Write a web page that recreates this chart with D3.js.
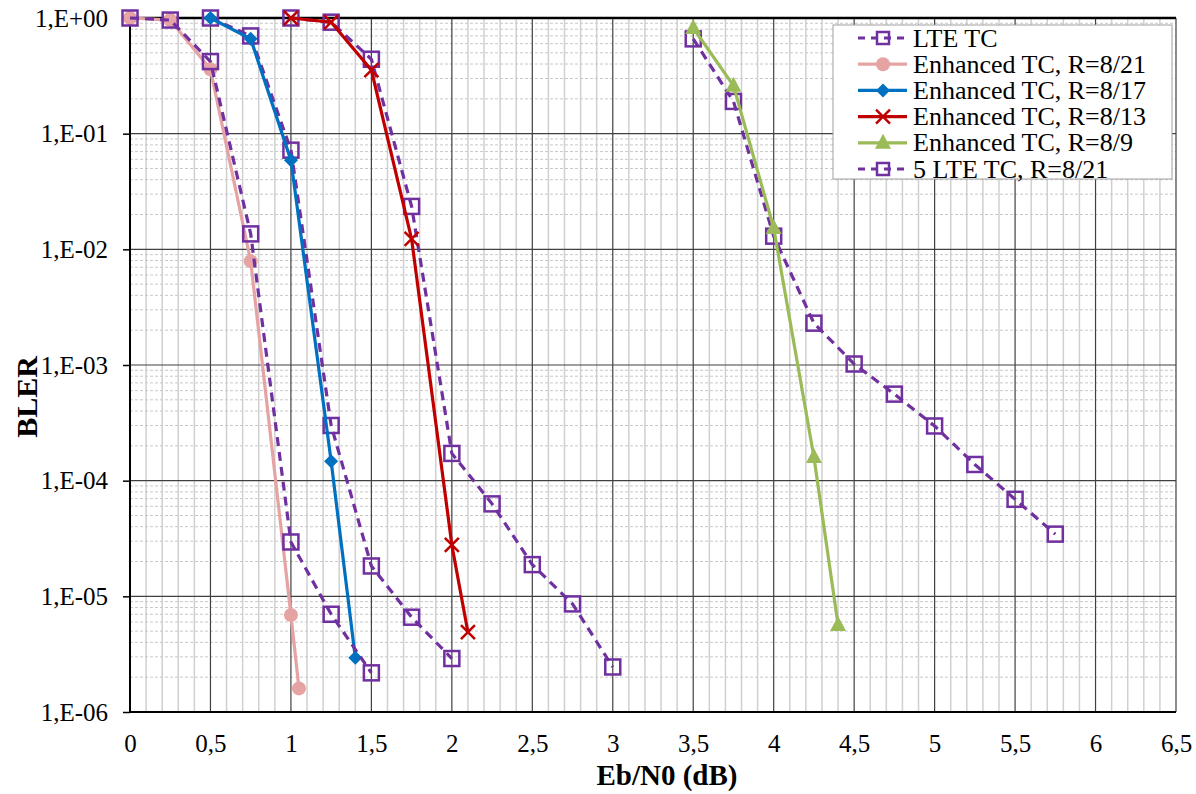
<!DOCTYPE html>
<html><head><meta charset="utf-8">
<script src="https://cdn.jsdelivr.net/npm/d3@7"></script>
<style>body{margin:0;background:#fff}svg{display:block}text{font-family:"Liberation Serif","Times New Roman",serif}</style>
</head><body><svg id="c" width="1196" height="794"></svg>
<script>
// ---- data ----
const xTicks = [0,0.5,1,1.5,2,2.5,3,3.5,4,4.5,5,5.5,6,6.5];
const yTicks = [1,1e-1,1e-2,1e-3,1e-4,1e-5,1e-6];
const yTickLabels = ["1,E+00","1,E-01","1,E-02","1,E-03","1,E-04","1,E-05","1,E-06"];

// LTE TC (three separate curves)
const lteB_x = [0.5,0.75,1,1.25,1.5,1.75,2];
const lteB_y = [1,0.70,0.072,3.0e-4,1.83e-5,6.6e-6,2.9e-6];
const lteC_x = [1,1.25,1.5,1.75,2,2.25,2.5,2.75,3];
const lteC_y = [1,0.92,0.44,0.0235,1.72e-4,6.3e-5,1.88e-5,8.6e-6,2.45e-6];
const lteD_x = [3.5,3.75,4,4.25,4.5,4.75,5,5.25,5.5,5.75];
const lteD_y = [0.66,0.19,0.013,2.3e-3,1.02e-3,5.6e-4,2.97e-4,1.38e-4,6.9e-5,3.45e-5];
// Enhanced TC
const e821_x = [0,0.25,0.5,0.75,1,1.05];
const e821_y = [1,0.96,0.36,0.0079,6.9e-6,1.6e-6];
const e817_x = [0.5,0.75,1,1.25,1.4];
const e817_y = [1,0.66,0.059,1.47e-4,2.95e-6];
const e813_x = [1,1.25,1.5,1.75,2,2.1];
const e813_y = [1,0.92,0.355,0.0123,2.78e-5,4.9e-6];
const e89_x = [3.5,3.75,4,4.25,4.4];
const e89_y = [0.82,0.26,0.0153,1.6e-4,5.65e-6];
// 5 LTE TC, R=8/21
const lte5_x = [0,0.25,0.5,0.75,1,1.25,1.5];
const lte5_y = [1,0.96,0.42,0.0136,2.95e-5,7.0e-6,2.18e-6];

const legendLabels = ["LTE TC","Enhanced TC, R=8/21","Enhanced TC, R=8/17","Enhanced TC, R=8/13","Enhanced TC, R=8/9","5 LTE TC, R=8/21"];

// ---- layout ----
const L=130, R=1176, T=18, B=712;
const svg = d3.select("#c");
const x = d3.scaleLinear().domain([0,6.5]).range([L,R]);
const y = d3.scaleLog().domain([1e-6,1]).range([B,T]);

// grid
const g = svg.append("g");
const minorX = d3.range(0,65).map(i=>i/10).filter(v=>Math.abs(v*2-Math.round(v*2))>1e-6);
g.selectAll(".mx").data(minorX).join("line")
  .attr("x1",d=>x(d)).attr("x2",d=>x(d)).attr("y1",T).attr("y2",B)
  .attr("stroke","#d0d0d0").attr("stroke-width",1.5);
const minorY=[];
for(let e=-6;e<0;e++) for(let k=2;k<=9;k++) minorY.push(k*Math.pow(10,e));
g.selectAll(".my").data(minorY).join("line")
  .attr("x1",L).attr("x2",R).attr("y1",d=>y(d)).attr("y2",d=>y(d))
  .attr("stroke","#c8c8c8").attr("stroke-width",1).attr("stroke-dasharray","3,2");
g.selectAll(".MX").data(xTicks).join("line")
  .attr("x1",d=>x(d)).attr("x2",d=>x(d)).attr("y1",T).attr("y2",B)
  .attr("stroke","#404040").attr("stroke-width",1.2);
g.selectAll(".MY").data(yTicks).join("line")
  .attr("x1",L).attr("x2",R).attr("y1",d=>y(d)).attr("y2",d=>y(d))
  .attr("stroke","#404040").attr("stroke-width",1.2);
svg.append("line").attr("x1",L).attr("x2",R).attr("y1",T).attr("y2",T).attr("stroke","#000").attr("stroke-width",2.5);
svg.append("line").attr("x1",L).attr("x2",R).attr("y1",B).attr("y2",B).attr("stroke","#000").attr("stroke-width",2);
svg.append("line").attr("x1",L).attr("x2",L).attr("y1",T).attr("y2",B).attr("stroke","#000").attr("stroke-width",2);

// axes
const yAxis = d3.axisLeft(y).tickValues(yTicks).tickSize(7).tickFormat((d,i)=>yTickLabels[i]);
const ya = svg.append("g").attr("transform",`translate(${L},0)`).call(yAxis);
ya.attr("font-family",null).attr("font-size",null);
ya.select(".domain").remove();
ya.selectAll("line").attr("stroke","#000").attr("stroke-width",1.5);
ya.selectAll("text").style("font-size","25px").attr("fill","#000").attr("x",-22).attr("dy","0.33em");
const xAxis = d3.axisBottom(x).tickValues(xTicks).tickSize(0).tickFormat(d=>String(d).replace(".",","));
const xa = svg.append("g").attr("transform",`translate(0,${B})`).call(xAxis);
xa.attr("font-family",null).attr("font-size",null);
xa.select(".domain").remove();
xa.selectAll("text").style("font-size","25px").attr("fill","#000").attr("y",40).attr("dy",null);

svg.append("text").attr("transform",`translate(37,397) rotate(-90)`).attr("text-anchor","middle")
  .style("font-size","30px").attr("font-weight","bold").text("BLER");
svg.append("text").attr("x",667).attr("y",785).attr("text-anchor","middle")
  .style("font-size","29px").attr("font-weight","bold").text("Eb/N0 (dB)");

// series
const PUR="#7030A0", PINK="#E6A3A3", BLUE="#0070C0", RED="#C00000", GREEN="#9BBB59";
const line = d3.line().x(d=>x(d[0])).y(d=>y(d[1]));
const zip=(a,b)=>a.map((v,i)=>[v,b[i]]);
function marker(sel, type, color){
  if(type==="square") sel.append("rect").attr("x",-7.5).attr("y",-7.5).attr("width",15).attr("height",15)
    .attr("fill","none").attr("stroke",color).attr("stroke-width",2.5);
  else if(type==="circle") sel.append("circle").attr("r",7).attr("fill",color);
  else if(type==="diamond") sel.append("path").attr("d","M0,-7L7,0L0,7L-7,0Z").attr("fill",color);
  else if(type==="x") sel.append("path").attr("d","M-7,-7L7,7M-7,7L7,-7").attr("stroke",color).attr("stroke-width",2.5).attr("fill","none");
  else if(type==="tri") sel.append("path").attr("d","M0,-9L8,6L-8,6Z").attr("fill",color);
}
function series(xs, ys, color, type, dashed){
  const data = zip(xs,ys);
  svg.append("path").datum(data).attr("d",line).attr("fill","none").attr("stroke",color)
    .attr("stroke-width",3.2).attr("stroke-dasharray",dashed?"9,6":null);
  svg.append("g").selectAll("g").data(data).join("g")
    .attr("transform",d=>`translate(${x(d[0])},${y(d[1])})`)
    .each(function(){ marker(d3.select(this),type,color); });
}
series(lteB_x,lteB_y,PUR,"square",true);
series(lteC_x,lteC_y,PUR,"square",true);
series(lteD_x,lteD_y,PUR,"square",true);
series(e821_x,e821_y,PINK,"circle",false);
series(e817_x,e817_y,BLUE,"diamond",false);
series(e813_x,e813_y,RED,"x",false);
series(e89_x,e89_y,GREEN,"tri",false);
series(lte5_x,lte5_y,PUR,"square",true);

// legend
const legStyles=[[PUR,"square",true],[PINK,"circle",false],[BLUE,"diamond",false],[RED,"x",false],[GREEN,"tri",false],[PUR,"square",true]];
const lg = svg.append("g").attr("transform","translate(833,25)");
lg.append("rect").attr("width",339).attr("height",154).attr("fill","#fff").attr("stroke","#a0a0a0").attr("stroke-width",1);
legendLabels.forEach((lab,i)=>{
  const yy = 13 + i*26.2;
  const [c,t,d]=legStyles[i];
  lg.append("line").attr("x1",25).attr("x2",74).attr("y1",yy).attr("y2",yy).attr("stroke",c).attr("stroke-width",3.2)
    .attr("stroke-dasharray",d?"7,6":null);
  const m = lg.append("g").attr("transform",`translate(50,${yy})`);
  marker(m,t,c);
  if(t==="square") m.select("rect").attr("x",-6).attr("y",-6).attr("width",12).attr("height",12);
  lg.append("text").attr("x",80).attr("y",yy+8.5).style("font-size","26px").text(lab);
});
</script></body></html>
